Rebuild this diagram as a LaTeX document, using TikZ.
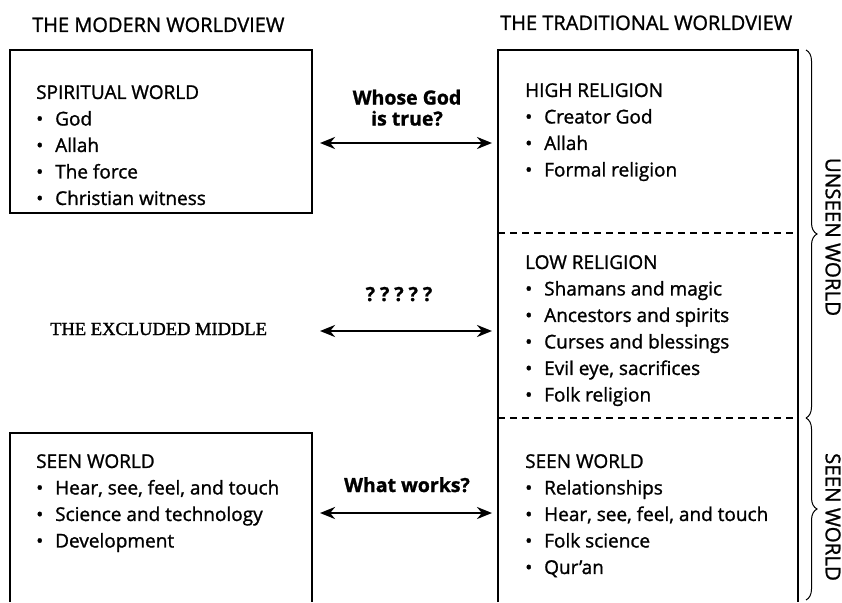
\documentclass[tikz,border=0pt]{standalone}
\usepackage{fontspec}
\setmainfont{Open Sans}[FakeBold=1.2]
\newfontfamily\middlefont{Liberation Serif}[FakeBold=1.4]
\usetikzlibrary{arrows.meta}
\usetikzlibrary{decorations.pathreplacing}
\usetikzlibrary{positioning}

\newcommand{\itm}{\makebox[19pt][l]{•}}

\begin{document}
\begin{tikzpicture}[x=1pt,y=-1pt]
	\tikzstyle{frame}=[line width=1.7pt]
	\tikzstyle{divide}=[line width=1.3pt, dash pattern=on 7pt off 5pt]
	\tikzstyle{list}=[anchor=north west, align=left, inner sep=0pt, font=\fontsize{19}{26.5}\selectfont]
	\tikzstyle{head}=[anchor=base west, inner sep=0pt, font=\fontsize{20}{22}\selectfont]
	\tikzstyle{ask}=[align=center, inner sep=0pt, font=\fontsize{19.5}{21}\selectfont\bfseries]
	\tikzstyle{both}=[line width=2.5pt, {Stealth[length=15pt,width=12pt]}-{Stealth[length=15pt,width=12pt]}]
	\tikzstyle{side}=[line width=1pt, decorate, decoration={brace, amplitude=11pt}]
	\tikzstyle{sidelabel}=[rotate=-90, inner sep=0pt, font=\fontsize{20.5}{22}\selectfont]

	\useasboundingbox (0,0) rectangle (842,602);

	% headings
	\node[head] (modern) at (32,32) {THE MODERN WORLDVIEW};
	\node[head] (trad) at (500,30) {THE TRADITIONAL WORLDVIEW};

	% boxes
	\draw[frame] (10,50) rectangle (312,213);
	\draw[frame] (10,602) -- (10,433) -- (312,433) -- (312,602);
	\draw[frame] (498,602) -- (498,50) -- (798,50) -- (798,602);
	\draw[divide] (498,233) -- (798,233);
	\draw[divide] (498,418) -- (798,418);

	% box texts
	\node[list] (spirit) at (36,85) {SPIRITUAL WORLD\\ \itm God\\ \itm Allah\\ \itm The force\\ \itm Christian witness};
	\node[list] (seenl) at (36,454) {SEEN WORLD\\ \itm Hear, see, feel, and touch\\ \itm Science and technology\\ \itm Development};
	\node[list] (high) at (525,83) {HIGH RELIGION\\ \itm Creator God\\ \itm Allah\\ \itm Formal religion};
	\node[list] (low) at (525,255) {LOW RELIGION\\ \itm Shamans and magic\\ \itm Ancestors and spirits\\ \itm Curses and blessings\\ \itm Evil eye, sacrifices\\ \itm Folk religion};
	\node[list] (seenr) at (525,454) {SEEN WORLD\\ \itm Relationships\\ \itm Hear, see, feel, and touch\\ \itm Folk science\\ \itm Qur’an};

	\node[anchor=base west, inner sep=0pt, font=\middlefont\fontsize{18.5}{22}\selectfont] (excl) at (50,335) {THE EXCLUDED MIDDLE};

	% arrows
	\coordinate (godl) at (320,143);
	\coordinate (godr) at (492,143);
	\coordinate (midl) at (320,331);
	\coordinate (midr) at (492,331);
	\coordinate (workl) at (320,513);
	\coordinate (workr) at (492,513);
	\draw[both] (godl) -- (godr);
	\draw[both] (midl) -- (midr);
	\draw[both] (workl) -- (workr);
	\node[ask, anchor=south] (whose) at (407,126) {Whose God\\is true?};
	\node[ask, anchor=base] (quest) at (399,301) {?\hspace{5pt}?\hspace{5pt}?\hspace{5pt}?\hspace{5pt}?};
	\node[ask, anchor=base] (works) at (407,492) {What works?};

	% braces
	\coordinate (bt) at (806,50);
	\coordinate (bm) at (806,418);
	\coordinate (bb) at (806,600);
	\draw[side] (bt) -- (bm);
	\draw[side] (bm) -- (bb);
	\node[sidelabel] (unseen) at (833,237) {UNSEEN WORLD};
	\node[sidelabel] (seen) at (833,517) {SEEN WORLD};
\end{tikzpicture}
\end{document}
